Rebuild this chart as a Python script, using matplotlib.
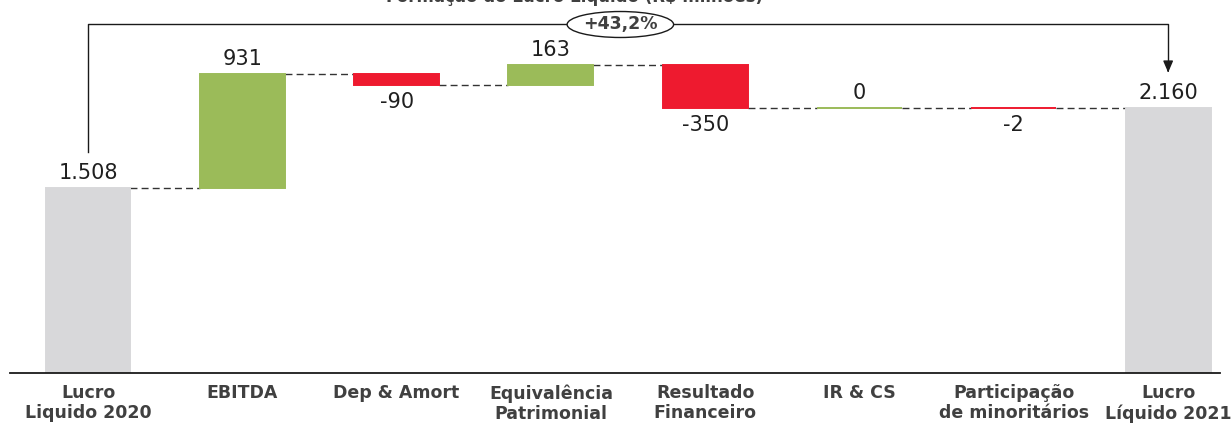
import matplotlib
matplotlib.use("Agg")
import matplotlib.pyplot as plt
from matplotlib.patches import Ellipse
import numpy as np

# data
categories = [
    "Lucro\nLiquido 2020",
    "EBITDA",
    "Dep & Amort",
    "Equivalência\nPatrimonial",
    "Resultado\nFinanceiro",
    "IR & CS",
    "Participação\nde minoritários",
    "Lucro\nLíquido 2021",
]
start_value = 1508
deltas = [931, -90, 163, -350, 0, -2]
end_value = 2160
value_labels = ["1.508", "931", "-90", "163", "-350", "0", "-2", "2.160"]
growth_label = "+43,2%"
title = "Formação do Lucro Líquido (R$ milhões)"

GREY = "#D8D8DA"
GREEN = "#9BBB59"
RED = "#EE1A2F"
TEXT = "#1F1F1F"
LABEL = "#404040"

plt.rcParams["font.family"] = ["DejaVu Sans"]

fig = plt.figure(figsize=(12.31, 4.29), dpi=100)
ax = fig.add_axes([10 / 1231, 56 / 429, 1210 / 1231, 373 / 429])

x = np.arange(len(categories))
width = 0.55

# build waterfall bottoms / heights
bottoms = [0]
heights = [start_value]
colors = [GREY]
running = start_value
levels = [running]
for d in deltas:
    if d >= 0:
        bottoms.append(running)
        heights.append(d)
        colors.append(GREEN)
    else:
        bottoms.append(running + d)
        heights.append(-d)
        colors.append(RED)
    running += d
    levels.append(running)
bottoms.append(0)
heights.append(end_value)
colors.append(GREY)

ax.bar(x, heights, bottom=bottoms, width=width, color=colors,
       edgecolor=colors, linewidth=1.4, zorder=2)

# connectors
for i in range(len(x) - 1):
    ax.plot([x[i] + width / 2, x[i + 1] - width / 2], [levels[i], levels[i]],
            color="#333333", lw=1.0, dashes=(5, 3), zorder=1)

# value labels
for i in range(len(x)):
    top = bottoms[i] + heights[i]
    is_neg = 0 < i < len(x) - 1 and deltas[i - 1] < 0
    if is_neg:
        ax.annotate(value_labels[i], (x[i], bottoms[i]), xytext=(0, -5),
                    textcoords="offset points", ha="center", va="top",
                    fontsize=15, color=TEXT)
    else:
        ax.annotate(value_labels[i], (x[i], top), xytext=(0, 4),
                    textcoords="offset points", ha="center", va="bottom",
                    fontsize=15, color=TEXT)

# growth arrow from first to last bar
arrow_y = 2845
ax.plot([x[0], x[0], x[-1], x[-1]], [start_value + 300, arrow_y, arrow_y, end_value + 330],
        color="#1A1A1A", lw=1.0, zorder=3, clip_on=False)
ax.annotate("", xy=(x[-1], end_value + 270), xytext=(x[-1], end_value + 340),
            arrowprops=dict(arrowstyle="-|>,head_length=0.7,head_width=0.3",
                            color="#1A1A1A", lw=1.0), annotation_clip=False)
ell = Ellipse((3.45, arrow_y), 0.69, 212, facecolor="white", edgecolor="#1A1A1A",
              lw=1.0, zorder=4, clip_on=False)
ax.add_patch(ell)
ax.text(3.45, arrow_y, growth_label, ha="center", va="center", fontsize=12.5,
        fontweight="bold", color=LABEL, zorder=5)

# title sits mostly above the visible area, as in the source image
fig.text(575 / 1231, 1 - 1.5 / 429, title, ha="center", va="baseline",
         fontsize=12, fontweight="bold", color=LABEL)

ax.set_xlim(-0.5055, 7.336)
ax.set_ylim(0, 3045)
ax.set_xticks(x)
ax.set_xticklabels(categories, fontsize=12.5, fontweight="bold", color=LABEL,
                   linespacing=1.15)
ax.tick_params(axis="x", length=0, pad=8)
ax.set_yticks([])
for s in ["top", "left", "right"]:
    ax.spines[s].set_visible(False)
ax.spines["bottom"].set_color("#1A1A1A")
ax.spines["bottom"].set_linewidth(1.3)
ax.patch.set_alpha(0)

fig.savefig("out.png", dpi=100)
